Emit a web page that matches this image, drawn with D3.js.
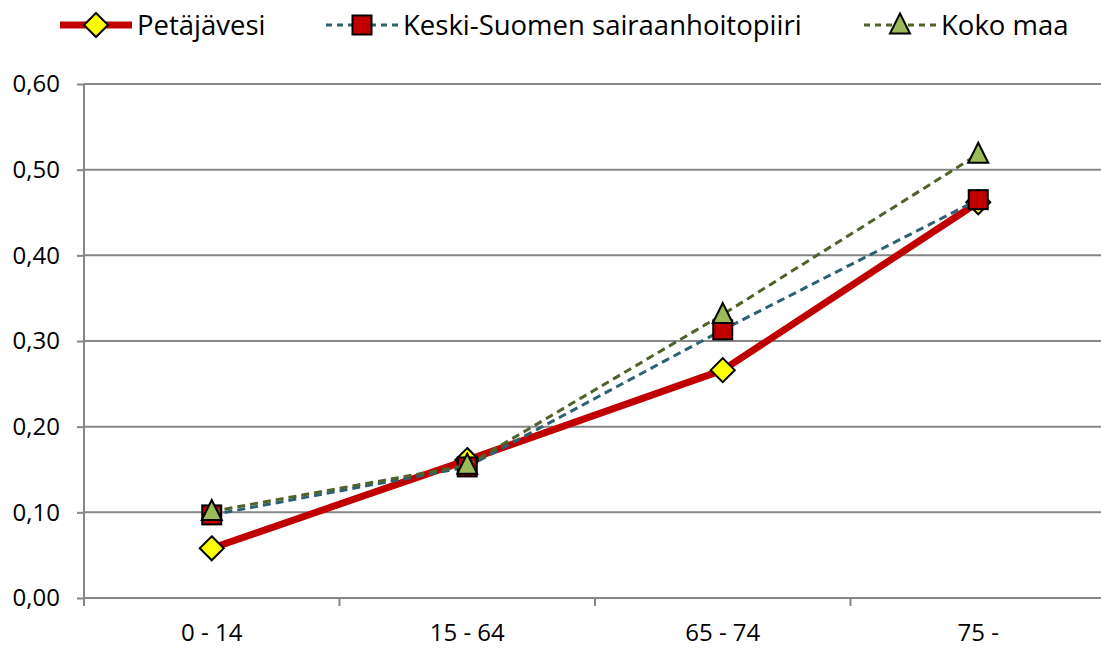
<!DOCTYPE html>
<html>
<head>
<meta charset="utf-8">
<script src="https://cdn.jsdelivr.net/npm/d3@7"></script>
<style>
  body { margin: 0; background: #fff; }
  svg { display: block; font-family: "Open Sans", sans-serif; }
</style>
</head>
<body>
<svg id="chart" width="1101" height="649"></svg>
<script>
// Data
const categories = ["0 - 14", "15 - 64", "65 - 74", "75 -"];
const petajavesi = [0.058, 0.161, 0.266, 0.462];
const keskiSuomi = [0.097, 0.153, 0.313, 0.465];
const kokoMaa = [0.101, 0.155, 0.331, 0.518];
const seriesNames = ["Petäjävesi", "Keski-Suomen sairaanhoitopiiri", "Koko maa"];
const yTicks = [0, 0.1, 0.2, 0.3, 0.4, 0.5, 0.6];

const svg = d3.select("#chart");

const dimensions = {
  margin: { top: 84, right: -5, bottom: 51, left: 84 },
  width: 1101,
  height: 649,
};
dimensions.boundedWidth = dimensions.width - dimensions.margin.left - dimensions.margin.right;
dimensions.boundedHeight = dimensions.height - dimensions.margin.top - dimensions.margin.bottom;

const bound = svg
  .append("g")
  .attr("transform", `translate(${dimensions.margin.left},${dimensions.margin.top})`);

// Scales
const xScale = d3
  .scaleBand()
  .domain(categories)
  .range([0, dimensions.boundedWidth]);
const yScale = d3
  .scaleLinear()
  .domain([0, 0.6])
  .range([dimensions.boundedHeight, 0]);
const xPos = (i) => xScale(categories[i]) + xScale.bandwidth() / 2;

const yFormat = (d) => d3.format(".2f")(d).replace(".", ",");
const gray = "#868686";

// Gridlines
bound
  .append("g")
  .selectAll("line")
  .data(yTicks.filter((d) => d > 0))
  .join("line")
  .attr("x1", 0)
  .attr("x2", dimensions.boundedWidth)
  .attr("y1", (d) => yScale(d))
  .attr("y2", (d) => yScale(d))
  .attr("stroke", gray)
  .attr("stroke-width", 2);

// Axes
const yAxis = d3.axisLeft(yScale).tickValues(yTicks).tickFormat(yFormat).tickSize(7).tickPadding(17);
const yAxisG = bound.append("g").call(yAxis);
yAxisG.attr("font-family", null);
yAxisG.selectAll(".domain, .tick line").attr("stroke", gray).attr("stroke-width", 2);
yAxisG.selectAll(".tick text").style("font-size", "24px").attr("fill", "#000");
yAxisG.select(".domain").attr("d", `M0,0V${dimensions.boundedHeight}`);

const xAxis = d3.axisBottom(xScale).tickSize(0).tickPadding(26);
const xAxisG = bound
  .append("g")
  .attr("transform", `translate(0,${dimensions.boundedHeight})`)
  .call(xAxis);
xAxisG.attr("font-family", null);
xAxisG.select(".domain").attr("stroke", gray).attr("stroke-width", 2).attr("d", `M0,0H${dimensions.boundedWidth}`);
xAxisG.selectAll(".tick text").style("font-size", "24px").attr("fill", "#000");
// category boundary ticks
bound
  .append("g")
  .selectAll("line")
  .data(d3.range(categories.length + 1))
  .join("line")
  .attr("x1", (i) => i * xScale.bandwidth())
  .attr("x2", (i) => i * xScale.bandwidth())
  .attr("y1", dimensions.boundedHeight)
  .attr("y2", dimensions.boundedHeight + 8)
  .attr("stroke", gray)
  .attr("stroke-width", 2);

// Marker shapes
const diamond = (g, size) =>
  g.append("path")
    .attr("d", `M0,${-size}L${size},0L0,${size}L${-size},0Z`)
    .attr("fill", "#FFFF00")
    .attr("stroke", "#000")
    .attr("stroke-width", 2);
const square = (g, size) =>
  g.append("rect")
    .attr("x", -size)
    .attr("y", -size)
    .attr("width", size * 2)
    .attr("height", size * 2)
    .attr("fill", "#C00000")
    .attr("stroke", "#000")
    .attr("stroke-width", 2);
const triangle = (g, size) =>
  g.append("path")
    .attr("d", `M0,${-size * 1.15}L${size},${size * 0.85}L${-size},${size * 0.85}Z`)
    .attr("fill", "#9BBB59")
    .attr("stroke", "#000")
    .attr("stroke-width", 2);

const series = [
  { name: seriesNames[0], values: petajavesi, color: "#C00000", width: 7, dash: null, marker: diamond, size: 12 },
  { name: seriesNames[1], values: keskiSuomi, color: "#2C6174", width: 3, dash: "8,5", marker: square, size: 9.5 },
  { name: seriesNames[2], values: kokoMaa, color: "#4F6228", width: 3, dash: "8,5", marker: triangle, size: 10 },
];

const line = d3
  .line()
  .x((d, i) => xPos(i))
  .y((d) => yScale(d));

series.forEach((s) => {
  bound
    .append("path")
    .datum(s.values)
    .attr("fill", "none")
    .attr("stroke", s.color)
    .attr("stroke-width", s.width)
    .attr("stroke-dasharray", s.dash)
    .attr("stroke-linejoin", "round")
    .attr("d", line);
  s.values.forEach((v, i) => {
    const g = bound.append("g").attr("transform", `translate(${xPos(i)},${yScale(v)})`);
    s.marker(g, s.size);
  });
});

// Legend
const legendItems = [
  { lineX: 60, textX: 137 },
  { lineX: 326, textX: 403 },
  { lineX: 864, textX: 941 },
];
const legendY = 25;
series.forEach((s, i) => {
  const item = legendItems[i];
  const g = svg.append("g");
  g.append("line")
    .attr("x1", item.lineX)
    .attr("x2", item.lineX + 72)
    .attr("y1", legendY)
    .attr("y2", legendY)
    .attr("stroke", s.color)
    .attr("stroke-width", s.width)
    .attr("stroke-dasharray", s.dash ? "6,5" : null);
  const m = g.append("g").attr("transform", `translate(${item.lineX + 36},${legendY})`);
  s.marker(m, s.size);
  g.append("text")
    .attr("x", item.textX)
    .attr("y", legendY)
    .attr("dy", "0.35em")
    .style("font-size", "27.5px")
    .text(s.name);
});
</script>
</body>
</html>
